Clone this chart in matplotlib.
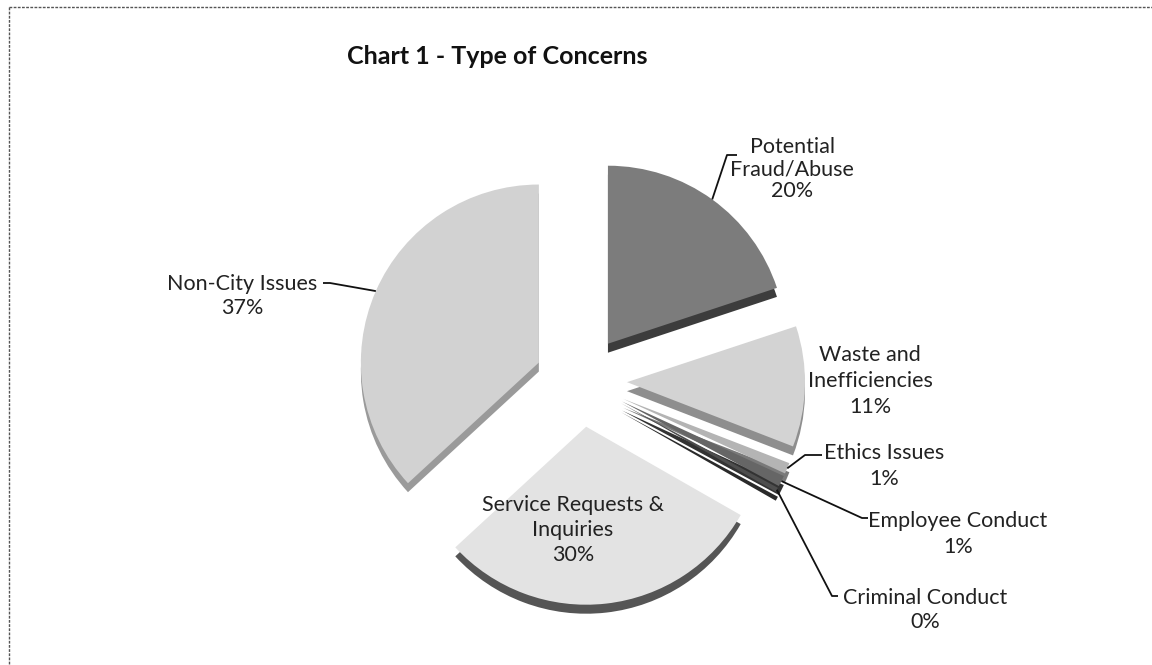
import numpy as np
import matplotlib
matplotlib.use("Agg")
import matplotlib.pyplot as plt

plt.rcParams["font.family"] = ["Lato", "DejaVu Sans"]

# data, clockwise from 12 o'clock
categories = [
    "Potential\nFraud/Abuse",
    "Waste and\nInefficiencies",
    "Ethics Issues",
    "Employee Conduct",
    "Criminal Conduct",
    "Service Requests &\nInquiries",
    "Non-City Issues",
]
values = [20, 11, 1, 1, 0.4, 30, 37]

face_colors = ["#7c7c7c", "#d3d3d3", "#b4b4b4", "#666666", "#4e4e4e", "#e3e3e3", "#d2d2d2"]
side_colors = ["#3c3c3c", "#8e8e8e", "#7a7a7a", "#333333", "#2a2a2a", "#555555", "#9a9a9a"]

# label text position (px), line spacing and leader path (px) per slice
label_pos = [(792, 169), (870, 381), (884, 466), (958, 534), (925, 610), (573, 530), (242, 296)]
label_spacing = [1.1, 1.35, 1.35, 1.35, 1.2, 1.3, 1.3]
leader_path = [
    [(727, 155), (737, 155)],
    None,
    [(805, 455), (822, 455)],
    [(862, 518), (868, 518)],
    [(832, 596), (838, 596)],
    None,
    [(330, 283), (323, 283)],
]

CENTER = (581, 381)
RADIUS = 178
EXPLODE = 46
DEPTH = 9

fig = plt.figure(figsize=(11.52, 6.65), dpi=100)
ax = fig.add_axes([0, 0, 1, 1])

# y axis runs downward, so counterclockwise in data is clockwise on screen
pie_kw = dict(startangle=-90, counterclock=True, radius=RADIUS,
              explode=[EXPLODE] * len(values), normalize=True)
ax.pie(values, colors=side_colors, center=(CENTER[0], CENTER[1] + DEPTH),
       wedgeprops=dict(linewidth=0), **pie_kw)
wedges, _ = ax.pie(values, colors=face_colors, center=CENTER,
                   wedgeprops=dict(linewidth=0), **pie_kw)

ax.set_xlim(0, 1152)
ax.set_ylim(665, 0)
ax.set_aspect("equal")
ax.axis("off")

total = sum(values)
for wedge, name, val, (tx, ty), ls, path in zip(wedges, categories, values,
                                                label_pos, label_spacing,
                                                leader_path):
    pct = round(val / total * 100)
    ax.text(tx, ty, f"{name}\n{pct}%", ha="center", va="center",
            fontsize=15.5, color="#222222", linespacing=ls)
    if path is None:
        continue
    mid = np.deg2rad((wedge.theta1 + wedge.theta2) / 2)
    cx, cy = wedge.center
    anchor = (cx + wedge.r * np.cos(mid), cy + wedge.r * np.sin(mid))
    pts = [anchor] + path
    ax.plot([p[0] for p in pts], [p[1] for p in pts],
            color="#111111", linewidth=1.3, solid_capstyle="butt")

ax.text(497, 57, "Chart 1 - Type of Concerns", ha="center", va="center",
        fontsize=18, fontweight="bold", color="#111111")

# chart-area border (only top and left edges survive in the scan)
ax.plot([9, 1152], [7, 7], color="#555555", linewidth=1, linestyle=(0, (2, 1)))
ax.plot([9, 9], [7, 665], color="#555555", linewidth=1, linestyle=(0, (2, 1)))

fig.savefig("out.png", dpi=100)
